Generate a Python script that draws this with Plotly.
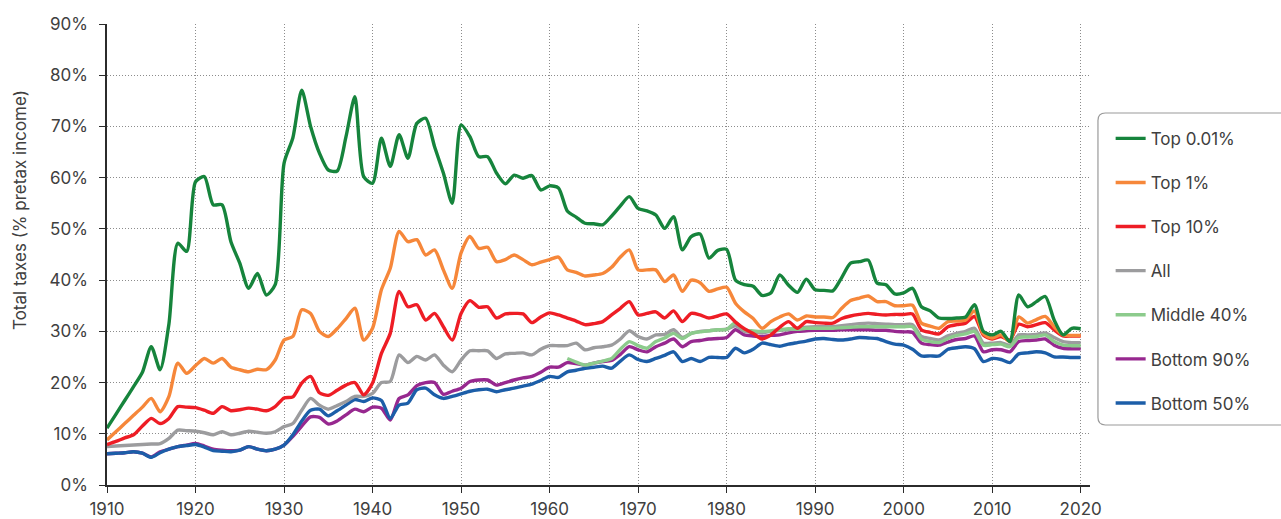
import plotly.graph_objects as go

YEARS = list(range(1910, 2021))

top001 = [11.1, 13.8, 16.5, 19.2, 22.0, 27.0, 22.5, 31.5, 47.2, 45.6,
          59.2, 60.2, 54.7, 54.7, 47.5, 43.3, 38.4, 41.3, 37.1, 39.1,
          62.8, 67.8, 77.1, 70.0, 64.8, 61.5, 61.3, 68.0, 75.8, 60.2,
          58.9, 67.7, 62.2, 68.4, 63.8, 70.6, 71.6, 66.1, 60.9, 55.0,
          70.3, 68.0, 64.1, 64.1, 60.9, 58.8, 60.5, 59.9, 60.4, 57.6,
          58.4, 58.0, 53.5, 52.3, 51.1, 51.0, 50.8, 52.5, 54.5, 56.3,
          54.0, 53.5, 52.7, 50.1, 52.4, 45.9, 48.5, 49.0, 44.3, 45.8,
          46.0, 40.0, 39.1, 38.8, 37.0, 37.5, 41.0, 39.0, 37.6, 40.2,
          38.1, 38.0, 37.9, 40.5, 43.3, 43.6, 43.9, 39.4, 39.1, 37.3,
          37.5, 38.4, 34.8, 34.0, 32.6, 32.5, 32.6, 32.8, 35.2, 30.0,
          29.3, 30.0, 28.0, 37.1, 34.8, 35.8, 36.8, 32.2, 29.3, 30.6,
          30.5]

top1 = [8.8, 10.4, 12.0, 13.6, 15.2, 16.9, 14.3, 17.3, 23.8, 21.8,
        23.3, 24.7, 23.8, 24.7, 23.0, 22.5, 22.1, 22.6, 22.5, 24.4,
        28.3, 29.0, 34.2, 33.5, 30.0, 29.0, 30.5, 32.5, 34.5, 28.3,
        30.6, 38.1, 42.3, 49.5, 47.5, 47.9, 44.9, 45.9, 42.0, 38.4,
        45.3, 48.5, 46.2, 46.4, 43.6, 44.0, 44.9, 44.0, 43.0, 43.5,
        44.0, 44.5, 42.0, 41.5, 40.8, 41.0, 41.3, 42.5, 44.5, 45.9,
        42.0, 42.0, 42.0, 39.7, 41.0, 37.8, 40.0, 39.5, 37.8, 38.3,
        38.6, 35.5, 33.8, 32.5, 30.6, 31.9, 32.8, 33.4, 32.2, 33.0,
        32.8, 32.8, 32.7, 34.5, 36.0, 36.5, 36.9, 35.8, 35.8, 35.0,
        35.0, 35.1, 31.6, 31.0, 30.6, 31.9, 32.0, 32.2, 34.0, 29.5,
        28.7, 29.3, 28.0, 32.8, 31.6, 32.3, 32.9, 30.9, 29.3, 29.2,
        29.2]

top10 = [7.9, 8.5, 9.2, 9.8, 11.5, 13.0, 12.0, 13.0, 15.3, 15.2,
         15.1, 14.6, 14.0, 15.3, 14.5, 14.7, 15.0, 14.8, 14.5, 15.3,
         17.0, 17.2, 19.9, 21.2, 18.0, 17.5, 18.5, 19.5, 20.0, 17.6,
         19.9, 25.7, 29.6, 37.8, 34.8, 35.2, 32.2, 33.5, 30.9, 28.3,
         33.5, 36.0, 34.7, 34.8, 32.6, 33.4, 33.5, 33.4, 31.7, 32.8,
         33.6, 33.2, 32.6, 32.0, 31.3, 31.5, 31.9, 33.2, 34.5, 35.8,
         33.2, 33.5, 33.8, 32.6, 34.0, 31.9, 33.5, 33.2, 32.6, 33.0,
         33.4, 31.8, 30.5, 29.6, 28.5, 29.3, 30.8, 31.9, 30.6, 31.9,
         31.7, 31.6, 31.6, 32.5, 33.0, 33.3, 33.5, 33.3, 33.2, 33.3,
         33.3, 33.4, 30.3, 29.8, 29.5, 30.9, 31.3, 31.6, 32.9, 29.3,
         28.5, 29.0, 28.3, 31.4, 30.9, 31.3, 31.7, 30.3, 29.1, 29.1,
         29.1]

all_ = [7.5, 7.6, 7.7, 7.8, 7.9, 8.0, 8.1, 9.1, 10.7, 10.6,
        10.5, 10.2, 9.8, 10.4, 9.8, 10.1, 10.5, 10.3, 10.1, 10.4,
        11.4, 12.0, 14.6, 16.9, 15.6, 14.8, 15.5, 16.3, 17.3, 17.3,
        17.9, 20.0, 20.2, 25.4, 23.9, 25.1, 24.4, 25.4, 23.4, 22.1,
        24.4, 26.2, 26.2, 26.2, 24.7, 25.6, 25.7, 25.8, 25.4, 26.5,
        27.2, 27.2, 27.2, 27.7, 26.4, 26.8, 27.0, 27.3, 28.5, 30.1,
        29.0, 28.5, 29.3, 29.4, 30.3, 28.8, 29.6, 30.0, 30.1, 30.3,
        30.4, 31.1, 30.0, 29.8, 29.7, 30.0, 30.2, 30.3, 30.6, 30.8,
        30.9, 30.9, 30.9, 31.1, 31.3, 31.5, 31.6, 31.5, 31.4, 31.3,
        31.3, 31.3, 29.0, 28.6, 28.3, 29.1, 29.6, 30.0, 30.6, 27.7,
        27.7, 27.8, 27.3, 29.3, 29.3, 29.4, 29.7, 28.8, 28.0, 27.8,
        27.8]

# Middle 40% is only available from 1962 onwards
mid40 = [None] * 52 + [
        24.7, 24.0, 23.4, 23.8, 24.2, 24.7, 26.5, 28.0,
        27.2, 26.7, 28.0, 28.7, 29.6, 28.6, 29.6, 29.9, 30.1, 30.3,
        30.4, 31.7, 30.3, 30.1, 30.0, 30.1, 30.3, 30.5, 30.4, 30.6,
        30.6, 30.6, 30.6, 30.7, 30.8, 30.9, 30.9, 30.9, 30.9, 30.9,
        30.9, 30.9, 28.5, 28.0, 27.8, 28.6, 29.2, 29.5, 30.0, 27.3,
        27.4, 27.5, 27.0, 28.8, 28.9, 29.0, 29.3, 28.0, 27.3, 27.2,
        27.2]

bot90 = [6.1, 6.2, 6.3, 6.5, 6.2, 5.5, 6.5, 7.0, 7.5, 7.8,
         8.1, 7.6, 7.0, 6.8, 6.7, 6.8, 7.5, 7.0, 6.7, 7.0,
         7.8, 9.5, 11.5, 13.3, 13.2, 11.9, 12.5, 13.7, 14.8, 14.3,
         15.2, 15.0, 12.7, 16.9, 17.6, 19.4, 20.0, 20.0, 17.7, 18.3,
         18.9, 20.2, 20.5, 20.5, 19.5, 20.0, 20.5, 20.9, 21.2, 22.0,
         23.0, 23.0, 23.9, 23.7, 23.4, 23.8, 24.1, 24.3, 25.5, 27.0,
         26.4, 26.0, 27.0, 27.7, 28.5, 27.0, 28.0, 28.2, 28.5, 28.6,
         28.8, 30.3, 29.3, 29.1, 29.0, 29.2, 29.3, 29.7, 30.0, 30.1,
         30.2, 30.2, 30.2, 30.3, 30.3, 30.3, 30.3, 30.2, 30.2, 30.0,
         29.9, 29.8, 27.7, 27.4, 27.3, 27.9, 28.4, 28.6, 29.1, 26.0,
         26.4, 26.4, 26.0, 28.0, 28.2, 28.3, 28.5, 27.3, 26.7, 26.6,
         26.6]

bot50 = [6.1, 6.2, 6.3, 6.5, 6.2, 5.4, 6.3, 7.0, 7.5, 7.7,
         7.9, 7.4, 6.7, 6.6, 6.5, 6.8, 7.5, 7.0, 6.7, 7.0,
         7.8, 9.8, 12.5, 14.6, 14.8, 13.5, 14.5, 15.6, 16.7, 16.3,
         17.0, 16.5, 13.0, 15.6, 16.0, 18.6, 18.9, 17.6, 16.9, 17.3,
         17.8, 18.3, 18.6, 18.7, 18.2, 18.6, 18.9, 19.3, 19.7, 20.4,
         21.2, 21.0, 22.1, 22.4, 22.8, 23.0, 23.2, 22.8, 24.2, 25.4,
         24.5, 24.1, 24.7, 25.3, 26.0, 24.1, 24.7, 24.1, 24.9, 24.9,
         24.9, 26.7, 25.8, 26.5, 27.7, 27.4, 27.1, 27.5, 27.8, 28.1,
         28.5, 28.6, 28.4, 28.3, 28.5, 28.8, 28.7, 28.6, 28.0, 27.5,
         27.3, 26.5, 25.2, 25.2, 25.2, 26.5, 26.8, 27.0, 26.6, 24.1,
         24.7, 24.5, 23.9, 25.6, 25.8, 26.0, 25.8, 25.0, 25.0, 24.9,
         24.9]

TICK_YEARS = list(range(1910, 2021, 10))
TICK_PCT = list(range(0, 91, 10))

FONT = "Inter"
TEXT = "#404040"

# (name, values, colour, legend position); drawn bottom group first
series = [
    ("Bottom 90%", bot90, "#97288f", 6),
    ("Bottom 50%", bot50, "#1c5ea8", 7),
    ("All", all_, "#9c9c9e", 4),
    ("Middle 40%", mid40, "#8ccb8c", 5),
    ("Top 10%", top10, "#ee1d25", 3),
    ("Top 1%", top1, "#f6873a", 2),
    ("Top 0.01%", top001, "#16843c", 1),
]

fig = go.Figure()
for name, vals, color, rank in series:
    fig.add_trace(go.Scatter(
        x=YEARS, y=vals, name=name, mode="lines",
        line=dict(color=color, width=3.4, shape="spline", smoothing=0.7),
        legendrank=rank, legendgroup=name, hoverinfo="skip",
    ))

grid = dict(showgrid=True, gridcolor="#8c8c8c", gridwidth=1, griddash="1px,2px")
axis_common = dict(
    showline=True, linecolor="#2b2b2b", linewidth=1.5,
    ticks="outside", ticklen=6, tickcolor="#2b2b2b", tickwidth=1,
    tickfont=dict(family=FONT, size=17, color=TEXT),
    zeroline=False, automargin=False, **grid,
)

fig.update_xaxes(
    range=[1910, 2021.05], tickmode="array", tickvals=TICK_YEARS,
    ticktext=[str(t) for t in TICK_YEARS], ticklabelstandoff=2,
    **axis_common,
)
fig.update_yaxes(
    range=[0, 90], tickmode="array", tickvals=TICK_PCT,
    ticktext=[f"{t}%" for t in TICK_PCT], ticklabelstandoff=8,
    **axis_common,
)

# rounded legend frame
x0, x1 = 1.0081, 1.21
y0, y1 = 0.1302, 0.8069
rx, ry = 0.0075, 0.016
frame = (f"M {x0+rx},{y1} L {x1},{y1} L {x1},{y0} L {x0+rx},{y0} "
         f"Q {x0},{y0} {x0},{y0+ry} L {x0},{y1-ry} Q {x0},{y1} {x0+rx},{y1} Z")
fig.add_shape(type="path", path=frame, xref="paper", yref="paper",
              line=dict(color="#9a9a9a", width=1.2), fillcolor="rgba(0,0,0,0)")

fig.add_annotation(
    text="Total taxes (% pretax income)", textangle=-90,
    xref="paper", yref="paper", x=-0.0885, y=0.5965,
    xanchor="center", yanchor="middle",
    showarrow=False, font=dict(family=FONT, size=17, color=TEXT),
)

fig.update_layout(
    width=1281, height=519,
    margin=dict(l=107, r=191, t=24, b=34),
    paper_bgcolor="white", plot_bgcolor="white",
    font=dict(family=FONT, size=17, color=TEXT),
    showlegend=True,
    legend=dict(
        x=1.021, y=0.79, xanchor="left", yanchor="top",
        traceorder="grouped", tracegroupgap=19,
        font=dict(family=FONT, size=17, color=TEXT),
        bgcolor="rgba(0,0,0,0)", borderwidth=0,
    ),
)

fig.write_html("out.html")
